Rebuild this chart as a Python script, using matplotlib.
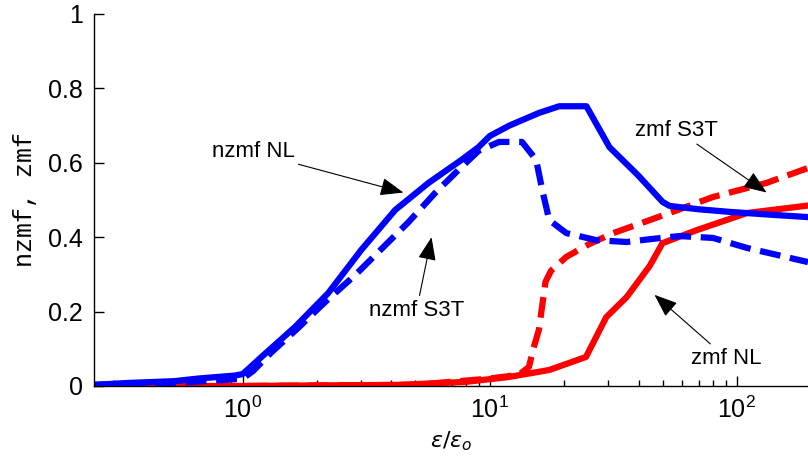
import matplotlib
matplotlib.use("Agg")
import matplotlib.pyplot as plt
import numpy as np

# nzmf NL (blue solid)
x_nzmf_nl = [0.25, 0.34, 0.53, 0.66, 0.93, 1.0, 1.2, 1.63, 2.22, 3.02, 4.14, 5.65,
             7.69, 9.0, 10.0, 12.0, 15.8, 19.1, 24.6, 30.5, 40, 50, 53.4, 70, 93.5, 140, 194]
y_nzmf_nl = [0.003, 0.008, 0.013, 0.02, 0.028, 0.032, 0.08, 0.159, 0.25, 0.366, 0.473, 0.546,
             0.608, 0.642, 0.672, 0.70, 0.734, 0.752, 0.752, 0.642, 0.565, 0.495, 0.484, 0.475,
             0.468, 0.46, 0.454]

# nzmf S3T (blue dashed)
x_nzmf_s3t = [0.25, 0.5, 0.8, 1.0, 1.1, 1.30, 1.67, 2.15, 2.85, 3.64, 4.68, 6.03, 7.5, 9.0,
              10.9, 13.5, 15.4, 16.3, 17.4, 20.4, 27.0, 35.8, 45, 58.5, 80, 110, 194]
y_nzmf_s3t = [0.003, 0.008, 0.015, 0.02, 0.04, 0.089, 0.155, 0.225, 0.298, 0.368, 0.44, 0.52,
              0.582, 0.632, 0.656, 0.656, 0.608, 0.527, 0.446, 0.411, 0.392, 0.387, 0.395,
              0.403, 0.398, 0.371, 0.333]

# zmf NL (red solid)
x_zmf_nl = [0.25, 1.0, 4.27, 7.97, 11.9, 17.4, 24.5, 29.6, 35.8, 44.4, 50, 68.8, 110, 194]
y_zmf_nl = [0.0, 0.0, 0.003, 0.011, 0.024, 0.043, 0.078, 0.185, 0.239, 0.323, 0.384, 0.419,
            0.465, 0.485]

# zmf S3T (red dashed)
x_zmf_s3t = [0.25, 1.0, 5, 10, 13.1, 14.4, 15.0, 15.8, 16.8, 17.7, 20.4, 25, 31.3, 53.4, 80,
             132, 194]
y_zmf_s3t = [0.0, 0.0, 0.003, 0.02, 0.03, 0.051, 0.10, 0.151, 0.28, 0.31, 0.347, 0.38, 0.41,
             0.465, 0.508, 0.546, 0.586]

plt.rcParams['font.family'] = ['Liberation Sans', 'DejaVu Sans']
plt.rcParams['lines.scale_dashes'] = False

fig = plt.figure(figsize=(8.08, 4.74), dpi=100)
ax = fig.add_axes([0.1163, 0.1857, 0.8837, 0.7848])

lw = 4.5
dash = (15, 7)
ax.plot(x_zmf_nl, y_zmf_nl, color='#ff0000', lw=lw)
ax.plot(x_zmf_s3t, y_zmf_s3t, color='#ff0000', lw=lw, dashes=dash)
ax.plot(x_nzmf_nl, y_nzmf_nl, color='#0000ff', lw=lw)
ax.plot(x_nzmf_s3t, y_nzmf_s3t, color='#0000ff', lw=lw, dashes=dash)

ax.set_xscale('log')
ax.set_xlim(0.25, 194)
ax.set_ylim(0, 1)
ax.set_yticks([0, 0.2, 0.4, 0.6, 0.8, 1])
ax.set_yticklabels(['0', '0.2', '0.4', '0.6', '0.8', '1'])

for s in ['top', 'right']:
    ax.spines[s].set_visible(False)
for s in ['left', 'bottom']:
    ax.spines[s].set_linewidth(1.0)

ax.tick_params(axis='both', which='major', direction='in', length=7, width=1,
               labelsize=18, pad=8)
ax.tick_params(axis='x', which='minor', direction='in', length=4, width=1)

ax.set_xlabel(r'$\varepsilon/\varepsilon_o$', fontsize=16, labelpad=4)
ax.set_ylabel('nzmf, zmf', fontsize=18, family='Liberation Mono', labelpad=8)

arrow = dict(arrowstyle='-|>,head_length=0.9,head_width=0.35', color='black', lw=0.8,
             shrinkA=1, shrinkB=0)
ax.annotate('nzmf NL', xy=(4.47, 0.52), xytext=(1.10, 0.629), fontsize=16,
            ha='center', va='center', arrowprops=arrow)
ax.annotate('nzmf S3T', xy=(5.81, 0.40), xytext=(5.05, 0.204), fontsize=16,
            ha='center', va='center', arrowprops=arrow)
ax.annotate('zmf S3T', xy=(132, 0.52), xytext=(57, 0.688), fontsize=16,
            ha='center', va='center', arrowprops=arrow)
ax.annotate('zmf NL', xy=(46.4, 0.245), xytext=(90.8, 0.075), fontsize=16,
            ha='center', va='center', arrowprops=arrow)

fig.savefig('out.png', dpi=100)
